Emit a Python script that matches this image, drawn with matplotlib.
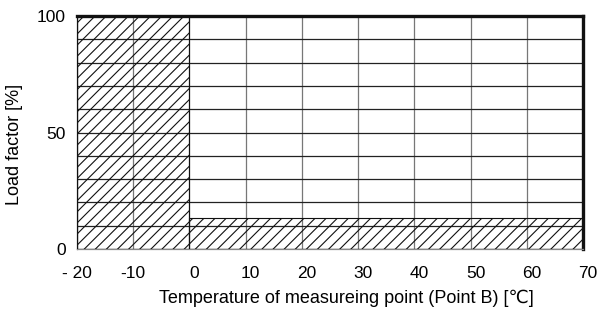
"""Load factor derating chart versus temperature at measuring point B."""

import matplotlib.pyplot as plt
import matplotlib.transforms as mtransforms

plt.rcParams['font.family'] = ['Liberation Sans', 'DejaVu Sans']
plt.rcParams['hatch.linewidth'] = 0.8

# Axis ticks and labels
x_ticks = [-20, -10, 0, 10, 20, 30, 40, 50, 60, 70]
x_labels = ['- 20', '-10', '0', '10', '20', '30', '40', '50', '60', '70']
y_ticks = [0, 10, 20, 30, 40, 50, 60, 70, 80, 90, 100]
y_labels = ['0', '', '', '', '', '50', '', '', '', '', '100']

# Prohibited (hatched) regions: left edge, width, height in %
region_left = [-20, 0]
region_width = [20, 70]
region_height = [100, 13.5]

fig = plt.figure(figsize=(6.0, 3.17), dpi=100)
ax = fig.add_axes([0.128, 0.2145, 0.844, 0.735])

ax.bar(region_left, region_height, width=region_width, align='edge',
       facecolor='none', edgecolor='#111111', hatch='///', linewidth=0.8,
       zorder=3)

ax.set_xlim(-20, 70)
ax.set_ylim(0, 100)
ax.set_xticks(x_ticks)
ax.set_xticklabels(x_labels, fontsize=12.5)
ax.set_yticks(y_ticks)
ax.set_yticklabels(y_labels, fontsize=12.5)
ax.tick_params(axis='both', length=0)
ax.tick_params(axis='x', pad=12)
ax.tick_params(axis='y', pad=8)

# Labels from 0 upward sit a little right of their grid lines
shift = mtransforms.ScaledTranslation(5 / 100, 0, fig.dpi_scale_trans)
for lab, val in zip(ax.get_xticklabels(), x_ticks):
    if val >= 0:
        lab.set_transform(lab.get_transform() + shift)

ax.yaxis.grid(True, color='#222222', linewidth=0.9)
ax.xaxis.grid(True, color='#777777', linewidth=0.9)
ax.set_axisbelow(True)

ax.spines['top'].set_linewidth(2.4)
ax.spines['right'].set_linewidth(2.4)
ax.spines['top'].set_color('#111111')
ax.spines['right'].set_color('#111111')
ax.spines['left'].set_linewidth(0.9)
ax.spines['left'].set_color('#333333')
ax.spines['bottom'].set_linewidth(0.9)
ax.spines['bottom'].set_color('#888888')

fig.text(0.577, 0.06, 'Temperature of measureing point (Point B) [\u2103]',
         ha='center', va='center', fontsize=13)
fig.text(0.025, 0.543, 'Load factor [%]', rotation=90,
         ha='center', va='center', fontsize=13)

fig.savefig('out.png', dpi=100)
